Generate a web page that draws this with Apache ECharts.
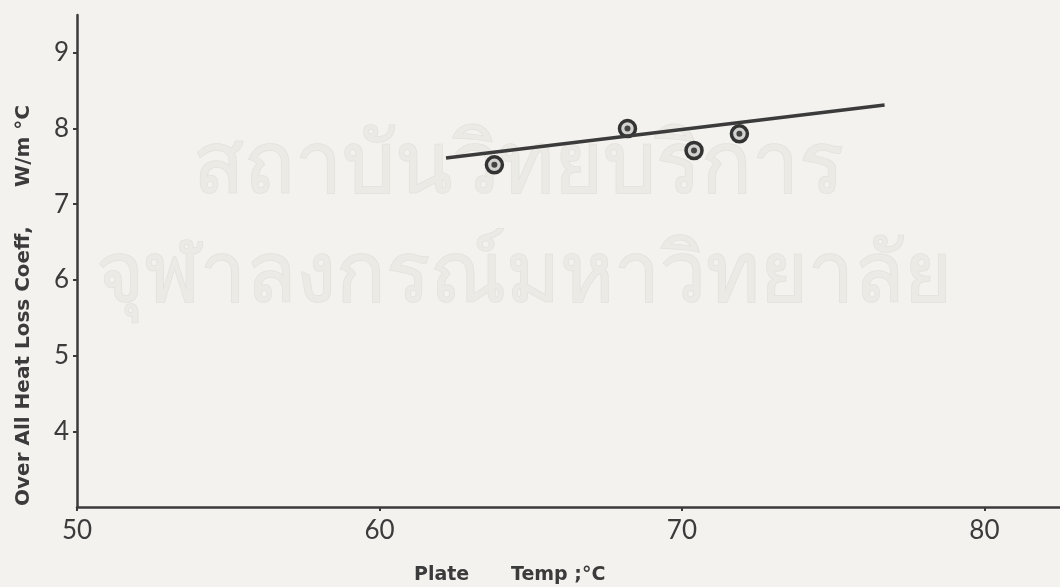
<!DOCTYPE html>
<html>
<head>
<meta charset="utf-8">
<script src="https://cdn.jsdelivr.net/npm/echarts@6/dist/echarts.min.js"></script>
<style>
  html, body { margin: 0; padding: 0; background: #f3f2ee; }
  #chart { width: 1060px; height: 587px; }
</style>
</head>
<body>
<div id="chart"></div>
<script>
// measured points (plate temp, heat loss coeff)
const plateTemp = [63.8, 68.2, 70.4, 71.9];
const lossCoeff = [7.52, 8.0, 7.71, 7.93];

// fitted line end points
const fitTemp = [62.2, 76.7];
const fitCoeff = [7.61, 8.31];

const xTitle = ['Plate', 'Temp ;°C'];
const yTitle = ['Over All Heat Loss Coeff,', 'W/m °C'];
const watermark = ['สถาบันวิทยบริการ', 'จุฬาลงกรณ์มหาวิทยาลัย'];

const ink = '#3b3b3b';
const font = 'Lato, "DejaVu Sans", sans-serif';
const xTitleFont = 'bold 19px "DejaVu Sans", sans-serif';
const yTitleFont = 'bold 20px "DejaVu Sans", sans-serif';

var chart = echarts.init(document.getElementById('chart'));

var points = plateTemp.map((t, i) => [t, lossCoeff[i]]);
var fit = fitTemp.map((t, i) => [t, fitCoeff[i]]);

var wm = { fill: '#ebeae5', stroke: '#e2e1dc', lineWidth: 1.5 };

chart.setOption({
  backgroundColor: '#f3f2ee',
  animation: false,
  grid: { left: 77, right: 0, top: 15, bottom: 80 },
  graphic: [
    {
      type: 'text', x: 518, y: 168, z: -1,
      style: Object.assign({ text: watermark[0], font: '84px "Noto Sans", sans-serif', align: 'center', verticalAlign: 'middle' }, wm)
    },
    {
      type: 'text', x: 524, y: 278, z: -1,
      style: Object.assign({ text: watermark[1], font: '82px "Noto Sans", sans-serif', align: 'center', verticalAlign: 'middle' }, wm)
    },
    {
      type: 'text', x: 414, y: 575,
      style: { text: xTitle[0], font: xTitleFont, fill: ink, verticalAlign: 'middle' }
    },
    {
      type: 'text', x: 511, y: 575,
      style: { text: xTitle[1], font: xTitleFont, fill: ink, verticalAlign: 'middle' }
    },
    {
      type: 'text', x: 24, y: 366, rotation: Math.PI / 2,
      style: { text: yTitle[0], font: yTitleFont, fill: ink, align: 'center', verticalAlign: 'middle' }
    },
    {
      type: 'text', x: 24, y: 146, rotation: Math.PI / 2,
      style: { text: yTitle[1], font: yTitleFont, fill: ink, align: 'center', verticalAlign: 'middle' }
    }
  ],
  xAxis: {
    type: 'value', min: 50, max: 82.5, interval: 10,
    axisLine: { show: true, lineStyle: { color: ink, width: 2.5 } },
    axisTick: { show: true, length: 4, lineStyle: { color: ink, width: 2 } },
    axisLabel: { showMaxLabel: false, margin: 11, fontSize: 26, color: ink, fontFamily: font },
    splitLine: { show: false }
  },
  yAxis: {
    type: 'value', min: 3, max: 9.5, interval: 1,
    axisLine: { show: true, lineStyle: { color: ink, width: 2.5 } },
    axisTick: { show: true, length: 4, lineStyle: { color: ink, width: 2 } },
    axisLabel: { showMinLabel: false, showMaxLabel: false, margin: 8, fontSize: 26, color: ink, fontFamily: font },
    splitLine: { show: false }
  },
  series: [
    {
      type: 'line', data: fit, symbol: 'none',
      lineStyle: { color: ink, width: 3.5 }
    },
    {
      type: 'scatter', data: points, symbol: 'circle', symbolSize: 16,
      itemStyle: { color: '#d2d2d0', borderColor: '#333', borderWidth: 3.5, opacity: 1 }
    },
    {
      type: 'scatter', data: points, symbol: 'circle', symbolSize: 6,
      itemStyle: { color: '#444', opacity: 1 }
    }
  ]
});
</script>
</body>
</html>
